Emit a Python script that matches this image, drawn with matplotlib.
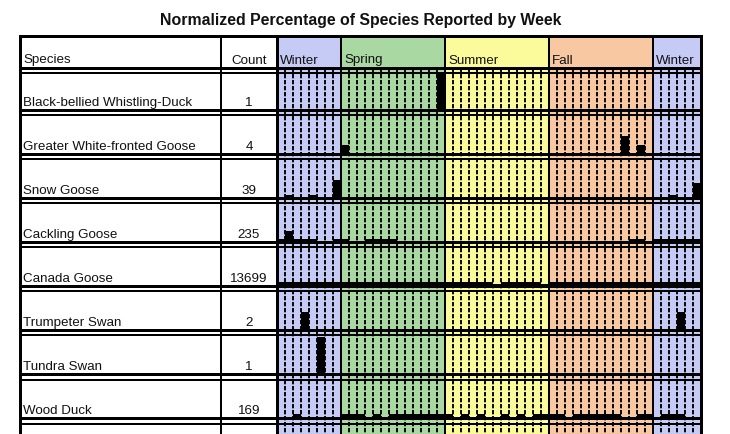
import matplotlib
matplotlib.use("Agg")
import matplotlib.pyplot as plt
from matplotlib.patches import Rectangle

plt.rcParams['font.family'] = ['Liberation Sans', 'DejaVu Sans']

# ---------------- data ----------------
title = "Normalized Percentage of Species Reported by Week"
species = ["Black-bellied Whistling-Duck", "Greater White-fronted Goose", "Snow Goose",
           "Cackling Goose", "Canada Goose", "Trumpeter Swan", "Tundra Swan", "Wood Duck"]
counts = [1, 4, 39, 235, 13699, 2, 1, 169]

season_names = ["Winter", "Spring", "Summer", "Fall", "Winter"]
season_weeks = [8, 13, 13, 13, 6]
season_colors = ["#C5CBF5", "#A9D8A2", "#FBFB9C", "#F8C8A3", "#C5CBF5"]

# normalized weekly values (week index -> value); weeks not listed are 0
bbwd = {20: 1.0}
gwfg = {8: 0.25, 43: 0.5, 45: 0.25}
snow = {1: 0.08, 4: 0.08, 7: 0.5, 49: 0.08, 52: 0.4}
cack = {0: 0.07, 1: 0.3, 2: 0.07, 3: 0.07, 4: 0.07, 7: 0.07, 8: 0.07,
        11: 0.07, 12: 0.07, 13: 0.07, 14: 0.07, 44: 0.07, 45: 0.07,
        47: 0.07, 48: 0.07, 49: 0.07, 50: 0.07, 51: 0.07, 52: 0.07}
cago = [0.11, 0.11, 0.11, 0.11, 0.11, 0.11, 0.11, 0.11,
        0.11, 0.11, 0.11, 0.11, 0.11, 0.11, 0.11, 0.11, 0.11, 0.11, 0.11, 0.11, 0.11,
        0.11, 0.11, 0.11, 0.11, 0.11, 0.11, 0.05, 0.11, 0.11, 0.11, 0.11, 0.11, 0.05,
        0.11, 0.11, 0.11, 0.11, 0.11, 0.11, 0.11, 0.11, 0.11, 0.11, 0.11, 0.11, 0.11,
        0.11, 0.11, 0.11, 0.11, 0.11, 0.11]
trsw = {3: 0.5, 50: 0.5}
tusw = {5: 1.0}
wodu = {2: 0.1, 8: 0.1, 9: 0.1, 10: 0.1, 12: 0.1, 14: 0.1, 15: 0.1, 16: 0.1,
        17: 0.1, 18: 0.1, 19: 0.1, 20: 0.1, 21: 0.1, 23: 0.1, 25: 0.1, 28: 0.1,
        30: 0.1, 32: 0.1, 33: 0.1, 34: 0.1, 35: 0.1, 37: 0.1, 38: 0.1, 39: 0.1,
        40: 0.1, 41: 0.1, 42: 0.1, 45: 0.1, 46: 0.1, 48: 0.1, 49: 0.1, 50: 0.1}
series = [bbwd, gwfg, snow, cack, dict(enumerate(cago)), trsw, tusw, wodu]

# ---------------- layout (pixel units) ----------------
W, H = 730, 435
fig = plt.figure(figsize=(W / 100, H / 100), dpi=100)
ax = fig.add_axes([0, 0, 1, 1])
ax.set_xlim(0, W)
ax.set_ylim(H, 0)
ax.axis("off")

px = 0.72  # points per pixel
fs = 9.6
left, x_sp, x_ct = 20, 221, 277
x_end = 701
n_weeks = sum(season_weeks)
cw = (x_end - x_ct) / n_weeks
top = 37
head_bot = 69
gap = 5
pitch = 44
row0_bot = 111
rowh = row0_bot - (head_bot + gap)
y_bottom = 445
row_base_off = 5.0
head_base = 63.5

# section backgrounds
bounds = [x_ct]
for n in season_weeks:
    bounds.append(bounds[-1] + n * cw)
for i, (name, col) in enumerate(zip(season_names, season_colors)):
    ax.add_patch(Rectangle((bounds[i], top), bounds[i + 1] - bounds[i], y_bottom - top,
                           facecolor=col, edgecolor="none", zorder=0))
    ax.text(bounds[i] + 3, head_base, name, fontsize=fs, va="baseline",
            ha="left", color="#111111", zorder=5)

# dashed week lines
for i in range(n_weeks):
    xx = x_ct + i * cw
    if any(abs(xx - b) < 0.1 for b in bounds):
        continue
    ax.plot([xx, xx], [head_bot, y_bottom], color="black", lw=1.35,
            linestyle=(0, (2.3, 0.9)), zorder=1, solid_capstyle="butt")

# rows: bars, lines, text
n_rows = len(species)
for r in range(n_rows):
    base = row0_bot + r * pitch
    vals = series[r]
    wk = sorted(vals.keys())
    hts = [vals[k] * rowh for k in wk]
    xs = [x_ct + k * cw for k in wk]
    ax.bar(xs, hts, width=cw, bottom=[base - h for h in hts], align="edge",
           color="black", edgecolor="none", zorder=2)
    ax.text(left + 3, base - row_base_off, species[r], fontsize=fs, va="baseline",
            ha="left", color="#111111", zorder=5)
    ax.text((x_sp + x_ct) / 2, base - row_base_off, str(counts[r]), fontsize=fs,
            va="baseline", ha="center", color="#111111", zorder=5)

# horizontal lines
ax.plot([left, x_end], [top, top], color="black", lw=3 * px, zorder=3)
hl = [(head_bot, 3), (head_bot + gap, 2)]
for r in range(n_rows):
    b = row0_bot + r * pitch
    hl.append((b, 3))
    hl.append((b + gap + (1 if r >= 6 else 0), 2))
for y, w in hl:
    ax.plot([left, x_end], [y, y], color="black", lw=w * px, zorder=3,
            solid_capstyle="butt")

# vertical lines
for xx, w in [(left, 3), (x_sp, 2), (x_ct, 3), (x_end, 3)] + [(b, 2) for b in bounds[1:-1]]:
    ax.plot([xx, xx], [top, y_bottom], color="black", lw=w * px, zorder=3,
            solid_capstyle="butt")

# header text
ax.text(left + 3, head_base, "Species", fontsize=fs, va="baseline",
        ha="left", color="#111111", zorder=5)
ax.text((x_sp + x_ct) / 2, head_base, "Count", fontsize=fs, va="baseline",
        ha="center", color="#111111", zorder=5)
ax.text(361, 20.5, title, fontsize=11.4, fontweight="bold", va="center", ha="center",
        color="#111111")

fig.savefig("out.png", dpi=100)
